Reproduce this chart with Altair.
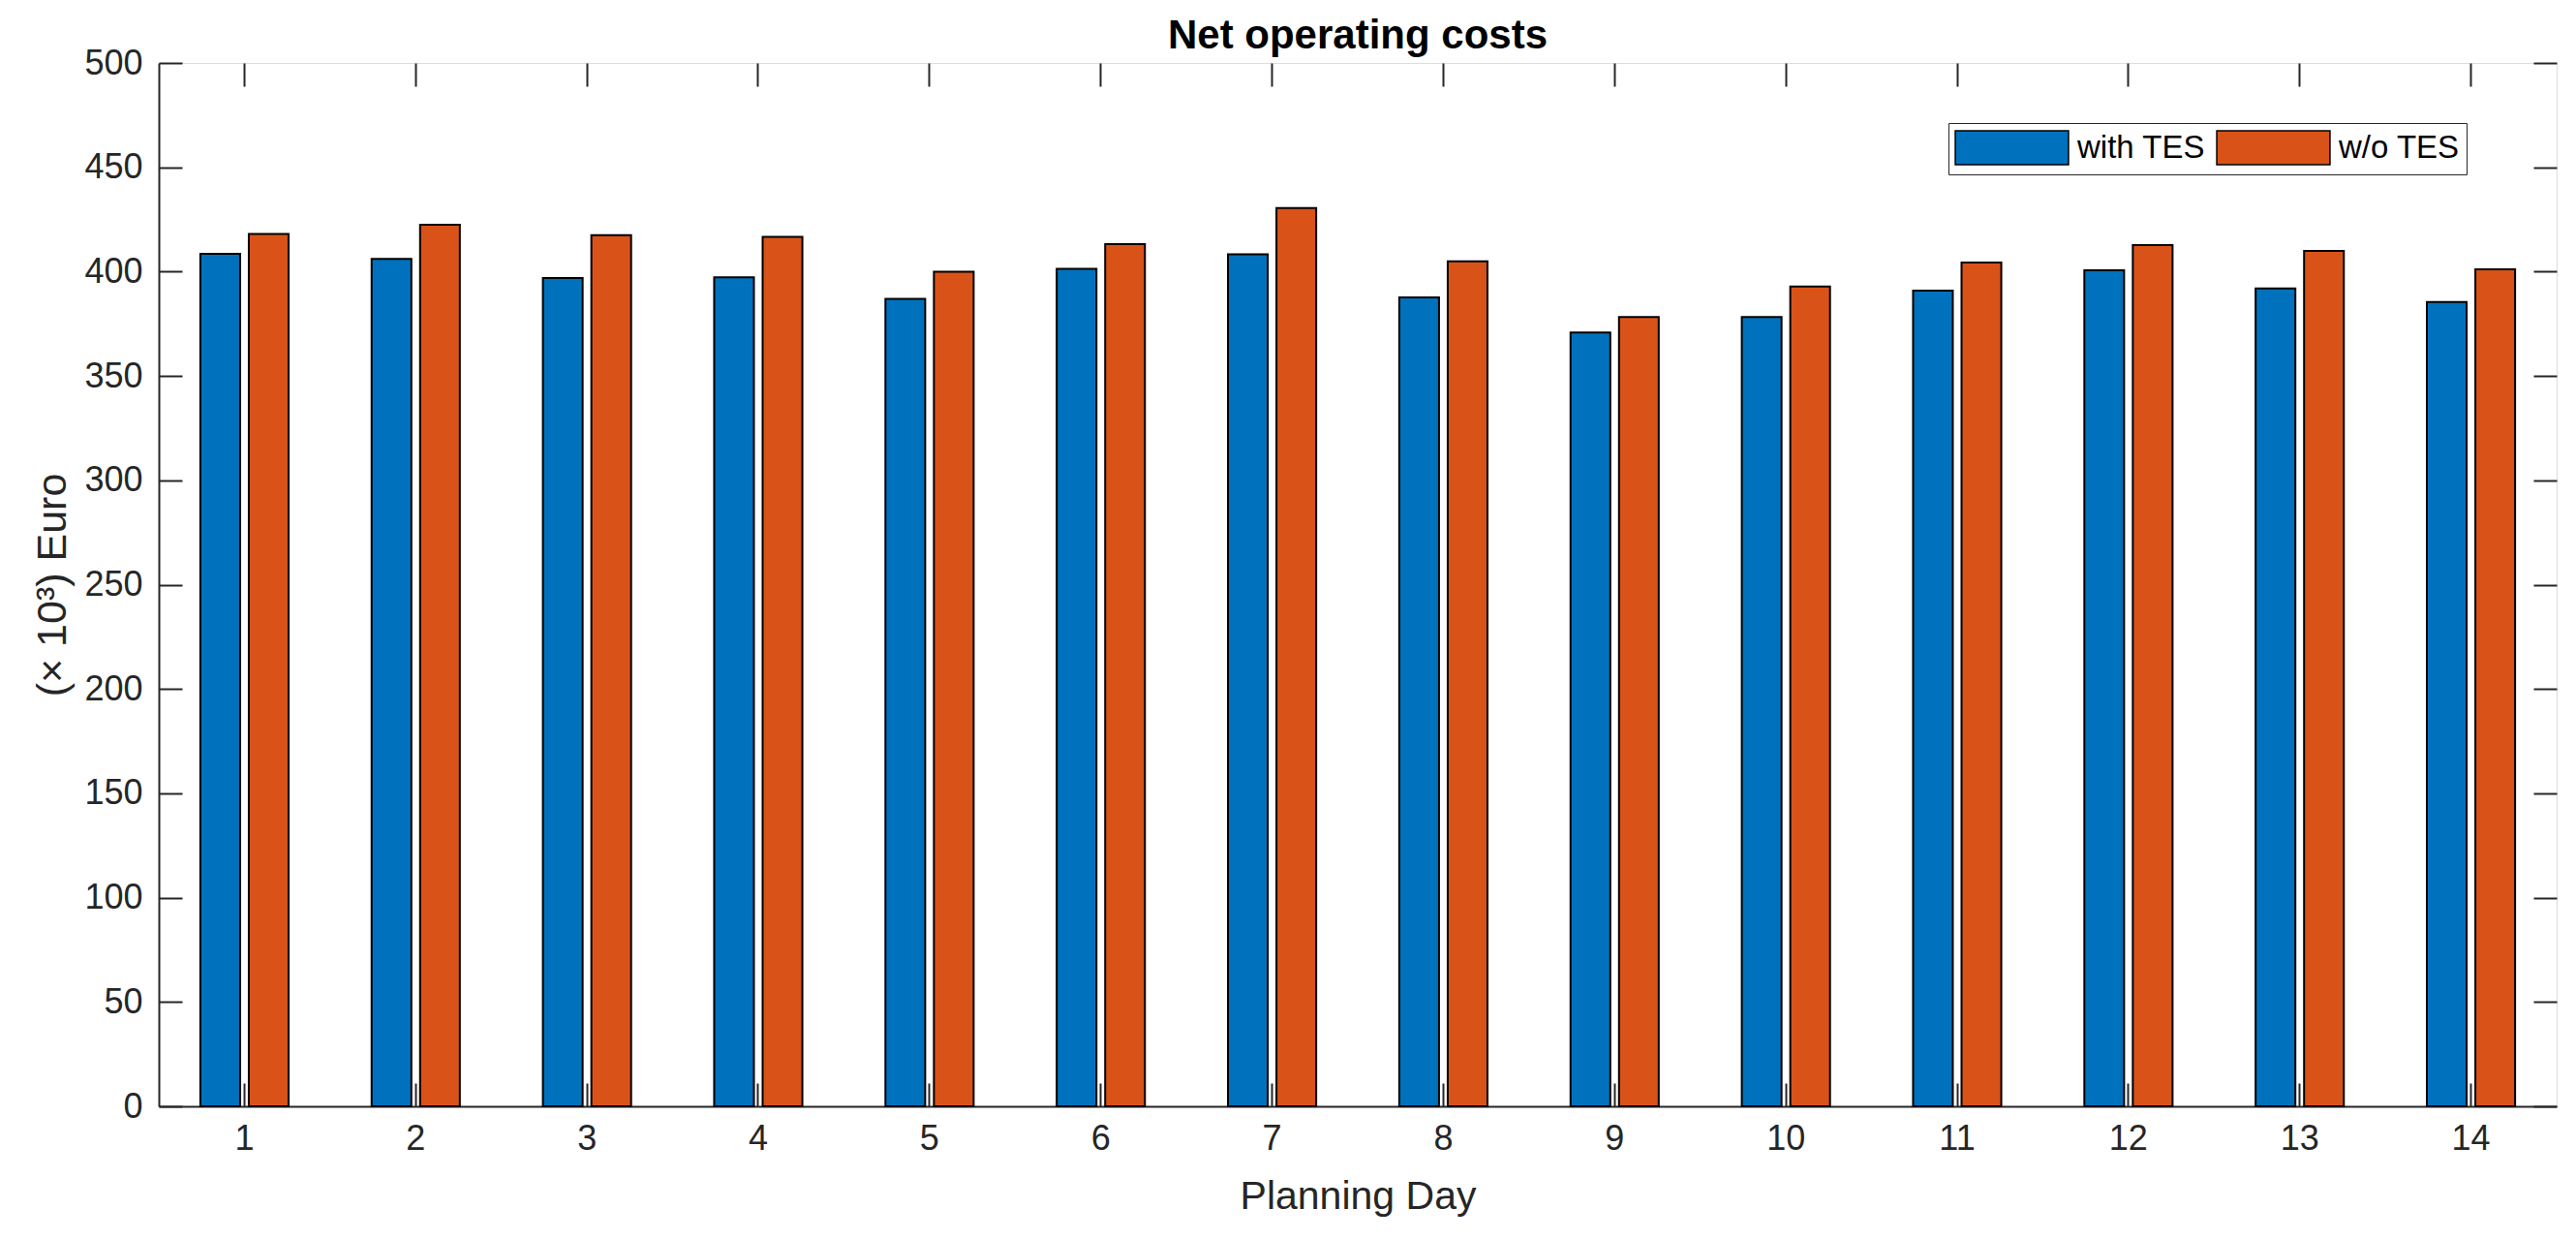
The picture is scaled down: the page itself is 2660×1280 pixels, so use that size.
import altair as alt
import pandas as pd

# ---- data ----
days = list(range(1, 15))
with_tes = [408.5, 406.1, 396.9, 397.3, 387.0, 401.3, 408.3, 387.6, 370.8, 378.3, 390.9, 400.6, 392.0, 385.4]
wo_tes = [418.1, 422.5, 417.5, 416.7, 400.0, 413.2, 430.5, 405.0, 378.3, 392.9, 404.4, 412.7, 409.9, 401.1]
series = ["with TES", "w/o TES"]
colors = ["#0072BD", "#D95319"]
y_ticks = list(range(0, 501, 50))

rows = []
for d, a, b in zip(days, with_tes, wo_tes):
    rows.append({"day": d, "series": series[0], "value": a})
    rows.append({"day": d, "series": series[1], "value": b})
df = pd.DataFrame(rows)

FONT = "Liberation Sans"
AX = "#262626"
W, H = 2476, 1077
TICK = 24

xscale = alt.Scale(paddingInner=0.485, paddingOuter=0.2425)
yscale = alt.Scale(domain=[0, 500], nice=False, zero=True)

# main bars with label axes
bars = alt.Chart(df).mark_bar(stroke="#000000", strokeWidth=2).encode(
    x=alt.X("day:O", scale=xscale, sort=days,
            axis=alt.Axis(orient="bottom", title="Planning Day", labelAngle=0, ticks=False, tickSize=0,
                          domain=True, domainColor=AX, domainWidth=2, labelFontSize=36,
                          labelPadding=16, labelColor=AX, labelFont=FONT, titleFont=FONT,
                          titleFontSize=41, titleFontWeight="normal", titleColor=AX,
                          titlePadding=22, grid=False)),
    xOffset=alt.XOffset("series:N", sort=series,
                        scale=alt.Scale(paddingInner=0.18, paddingOuter=0)),
    y=alt.Y("value:Q", scale=yscale, stack=None,
            axis=alt.Axis(orient="left", values=y_ticks, title="(× 10³) Euro", ticks=False, tickSize=0,
                          domain=True, domainColor=AX, domainWidth=2, labelFontSize=36,
                          labelPadding=17, labelColor=AX, labelFont=FONT, titleFont=FONT,
                          titleFontSize=43, titleFontWeight="normal", titleColor=AX,
                          titlePadding=10, grid=False)),
    color=alt.Color("series:N", sort=series,
                    scale=alt.Scale(domain=series, range=colors),
                    legend=alt.Legend(orient="none", legendX=1848, legendY=62,
                                      direction="horizontal", title=None,
                                      symbolType="M-3.34,-1H3.34V1H-3.34Z",
                                      symbolSize=1225, symbolStrokeColor="#000000",
                                      symbolStrokeWidth=1.5, symbolOpacity=1,
                                      symbolOffset=40, labelOffset=49, columnPadding=8,
                                      labelFontSize=33, labelFont=FONT, labelColor="#000000",
                                      labelLimit=400, padding=7, fillColor="white",
                                      strokeColor=AX, cornerRadius=0)),
)


def tick_layer(xorient, yorient):
    return alt.Chart(df).mark_bar(opacity=0).encode(
        x=alt.X("day:O", scale=xscale, sort=days,
                axis=alt.Axis(orient=xorient, offset=-TICK, ticks=True, tickSize=TICK,
                              tickColor=AX, tickWidth=2, labels=False, domain=False,
                              title=None, grid=False, bandPosition=0.5)),
        y=alt.Y("value:Q", scale=yscale, stack=None,
                axis=alt.Axis(orient=yorient, offset=-TICK, values=y_ticks, ticks=True,
                              tickSize=TICK, tickColor=AX, tickWidth=2, labels=False,
                              domain=False, title=None, grid=False)),
    )


chart = alt.layer(bars, tick_layer("bottom", "left"), tick_layer("top", "right")).resolve_axis(
    x="independent", y="independent"
).properties(
    width=W, height=H,
    title=alt.TitleParams("Net operating costs", font=FONT, fontSize=42, fontWeight="bold",
                          color="#000000", anchor="middle", frame="group", offset=-12),
    padding={"left": 156, "top": 57, "right": 12, "bottom": 130},
    autosize=alt.AutoSizeParams(type="none"),
).configure_view(stroke=AX, strokeWidth=2).configure(background="white")

chart.save("out.html", embed_options={"renderer": "svg", "actions": False})
